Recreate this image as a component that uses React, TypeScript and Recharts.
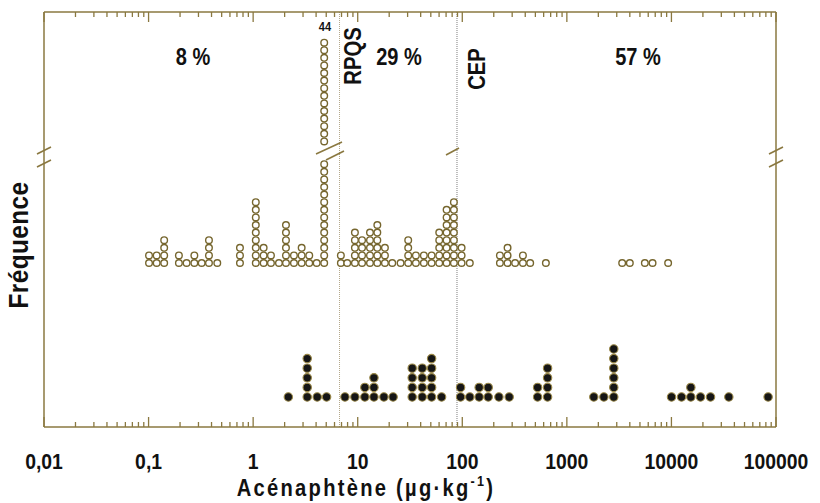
import React from 'react';
import { ScatterChart, Scatter, XAxis, YAxis, ReferenceLine } from 'recharts';

// ---- data ----
const openValues = [0.101, 0.1195, 0.141, 0.195, 0.231, 0.274, 0.322, 0.378, 0.454, 0.748,
  1.06, 1.26, 1.48, 1.765, 2.06, 2.455, 2.91, 3.44, 4.05, 4.78,
  6.9, 7.94, 9.4, 11.0, 13.1, 15.4, 18.2, 21.4, 25.7, 30.4,
  36.0, 42.9, 50.9, 60.2, 70.8, 83.1, 98.5, 118, 229, 271,
  320, 380, 446, 630, 3380, 4000, 5570, 6600, 9300];
const openCounts = [2, 2, 4, 2, 1, 2, 1, 4, 1, 3,
  9, 3, 2, 1, 6, 2, 3, 2, 1, 44,
  2, 1, 5, 4, 5, 6, 3, 1, 1, 4,
  2, 2, 2, 5, 8, 9, 3, 1, 2, 3,
  1, 2, 1, 1, 1, 1, 1, 1, 1];

const closedValues = [2.17, 3.29, 4.1, 5.04, 7.55, 9.4, 11.7, 14.3, 17.8, 21.8,
  33.2, 41.4, 50.9, 63.4, 96.3, 118, 145, 177, 224, 281,
  525, 654, 1810, 2260, 2810, 10020, 12490, 15330, 18980, 23650,
  35380, 84050];
const closedCounts = [1, 5, 1, 1, 1, 1, 2, 3, 1, 1,
  4, 4, 5, 1, 2, 1, 2, 2, 1, 1,
  2, 4, 1, 1, 6, 1, 1, 2, 1, 1,
  1, 1];

const majorTicks = [0.01, 0.1, 1, 10, 100, 1000, 10000, 100000];
const majorTickLabels = ['0,01', '0,1', '1', '10', '100', '1000', '10000', '100000'];
const rpqsValue = 6.7;
const cepValue = 89;
const percentLabels = ['8 %', '29 %', '57 %'];
const xTitle = 'Acénaphtène (µg·kg';
const yTitle = 'Fréquence';

// ---- styles ----
const OLIVE = '#8a7840';
const DOT_STROKE = '#76662e';
const FONT = "'Liberation Sans', Arial, sans-serif";

const W = 820;
const H = 503;

const BREAK_LIMIT = 30;
const LOWER_SHOWN = 14;
const UPPER_START = 16;
const UPPER_SHOWN = 14;

const minorTicks: number[] = [];
for (let e = -2; e < 5; e++) {
  for (let m = 2; m <= 9; m++) minorTicks.push(Number((m * Math.pow(10, e)).toPrecision(3)));
}
const allTicks = [...majorTicks, ...minorTicks].sort((a, b) => a - b);
const majorIdx = (v: number) => majorTicks.findIndex((t) => Math.abs(t - v) / t < 1e-6);

type Pt = { x: number; y: number };
function stackPoints(values: number[], counts: number[]) {
  const lower: Pt[] = [];
  const upper: Pt[] = [];
  values.forEach((v, i) => {
    const c = counts[i];
    if (c > BREAK_LIMIT) {
      for (let k = 0; k < LOWER_SHOWN; k++) lower.push({ x: v, y: k });
      for (let k = 0; k < UPPER_SHOWN; k++) upper.push({ x: v, y: UPPER_START + k });
    } else {
      for (let k = 0; k < c; k++) lower.push({ x: v, y: k });
    }
  });
  return { lower, upper };
}
const openPts = stackPoints(openValues, openCounts);
const closedPts = stackPoints(closedValues, closedCounts);
const bigIndex = openCounts.findIndex((c) => c > BREAK_LIMIT);

const OpenDot = (p: any) => (
  <circle cx={p.cx} cy={p.cy} r={3.3} fill="#ffffff" stroke={DOT_STROKE} strokeWidth={1.4} />
);
const ClosedDot = (p: any) => (
  <circle cx={p.cx} cy={p.cy} r={4.2} fill="#161616" stroke="#9a8848" strokeWidth={1.1} />
);

const BottomTick = (p: any) => {
  const v = p.payload.value;
  const idx = majorIdx(v);
  const major = idx >= 0;
  return (
    <g>
      <line x1={p.x} x2={p.x} y1={p.y} y2={p.y - (major ? 10 : 5)} stroke={OLIVE} strokeWidth={1.3} />
      {major && (
        <text transform={`translate(${p.x},${p.y + 42}) scale(0.88,1)`} textAnchor="middle" fontFamily={FONT} fontWeight="bold" fontSize={22} fill="#111">
          {majorTickLabels[idx]}
        </text>
      )}
    </g>
  );
};
const TopTick = (p: any) => {
  const major = majorIdx(p.payload.value) >= 0;
  return <line x1={p.x} x2={p.x} y1={p.y} y2={p.y + (major ? 10 : 5)} stroke={OLIVE} strokeWidth={1.3} />;
};

export default function App() {
  const txt = { fontFamily: FONT, fontWeight: 'bold' as const, fill: '#111', textAnchor: 'middle' as const };
  return (
    <div style={{ position: 'absolute', left: 0, top: 0, width: W, height: H, background: '#fff' }}>
      <ScatterChart width={W} height={H} margin={{ top: 11, right: 44, bottom: 16, left: 44 }}>
        <XAxis
          xAxisId="b"
          type="number"
          scale="log"
          dataKey="x"
          domain={[0.01, 100000]}
          allowDataOverflow
          ticks={allTicks}
          interval={0}
          orientation="bottom"
          height={60}
          axisLine={{ stroke: OLIVE, strokeWidth: 1.5 }}
          tickLine={false}
          tickSize={0}
          tickMargin={0}
          tick={<BottomTick />}
        />
        <XAxis
          xAxisId="t"
          type="number"
          scale="log"
          dataKey="x"
          domain={[0.01, 100000]}
          allowDataOverflow
          ticks={allTicks}
          interval={0}
          orientation="top"
          height={1}
          axisLine={{ stroke: OLIVE, strokeWidth: 1.5 }}
          tickLine={false}
          tickSize={0}
          tickMargin={0}
          tick={<TopTick />}
        />
        <YAxis yAxisId="open" type="number" dataKey="y" domain={[-21.58, 33.03]} allowDataOverflow hide />
        <YAxis yAxisId="closed" orientation="right" type="number" dataKey="y" domain={[-3.125, 40.1]} allowDataOverflow hide />
        <ReferenceLine xAxisId="b" yAxisId="open" x={0.01} stroke={OLIVE} strokeWidth={1.5} ifOverflow="visible" />
        <ReferenceLine xAxisId="b" yAxisId="open" x={100000} stroke={OLIVE} strokeWidth={1.5} ifOverflow="visible" />
        <ReferenceLine xAxisId="b" yAxisId="open" x={rpqsValue} stroke="#b3a78a" strokeWidth={1} strokeDasharray="1 1" />
        <ReferenceLine xAxisId="b" yAxisId="open" x={cepValue} stroke="#7d7d7d" strokeWidth={1} strokeDasharray="1 1" />
        <Scatter xAxisId="b" yAxisId="open" data={openPts.lower} shape={OpenDot} isAnimationActive={false} />
        <Scatter xAxisId="b" yAxisId="open" data={openPts.upper} shape={OpenDot} isAnimationActive={false} />
        <Scatter xAxisId="b" yAxisId="closed" data={closedPts.lower} shape={ClosedDot} isAnimationActive={false} />
      </ScatterChart>
      <svg width={W} height={H} style={{ position: 'absolute', left: 0, top: 0, pointerEvents: 'none' }}>
        <g stroke={OLIVE} strokeWidth={1.6}>
          <line x1={37} y1={154} x2={51} y2={147} />
          <line x1={37} y1={167} x2={51} y2={160} />
          <line x1={769} y1={154} x2={783} y2={147} />
          <line x1={769} y1={167} x2={783} y2={160} />
          <line x1={316} y1={154} x2={342} y2={142} />
          <line x1={326} y1={160} x2={344} y2={151} />
          <line x1={446} y1={155} x2={459} y2={148} />
        </g>
        <text transform="translate(325,31) scale(0.85,1)" {...txt} fontSize={13}>{openCounts[bigIndex]}</text>
        <text transform="translate(193,65) scale(0.87,1)" {...txt} fontSize={23}>{percentLabels[0]}</text>
        <text transform="translate(399,65) scale(0.87,1)" {...txt} fontSize={23}>{percentLabels[1]}</text>
        <text transform="translate(638,65) scale(0.87,1)" {...txt} fontSize={23}>{percentLabels[2]}</text>
        <text transform="translate(361,56) rotate(-90) scale(0.88,1)" {...txt} fontSize={23}>RPQS</text>
        <text transform="translate(485,69) rotate(-90) scale(0.88,1)" {...txt} fontSize={23}>CEP</text>
        <text transform="translate(28,245) rotate(-90) scale(0.9,1)" {...txt} fontSize={27} letterSpacing={0.5}>{yTitle}</text>
        <text transform="translate(366,496) scale(0.84,1)" {...txt} fontSize={24} letterSpacing={2.7}>
          {xTitle}
          <tspan fontSize={15} dy={-10}>-1</tspan>
          <tspan dy={10}>)</tspan>
        </text>
      </svg>
    </div>
  );
}
